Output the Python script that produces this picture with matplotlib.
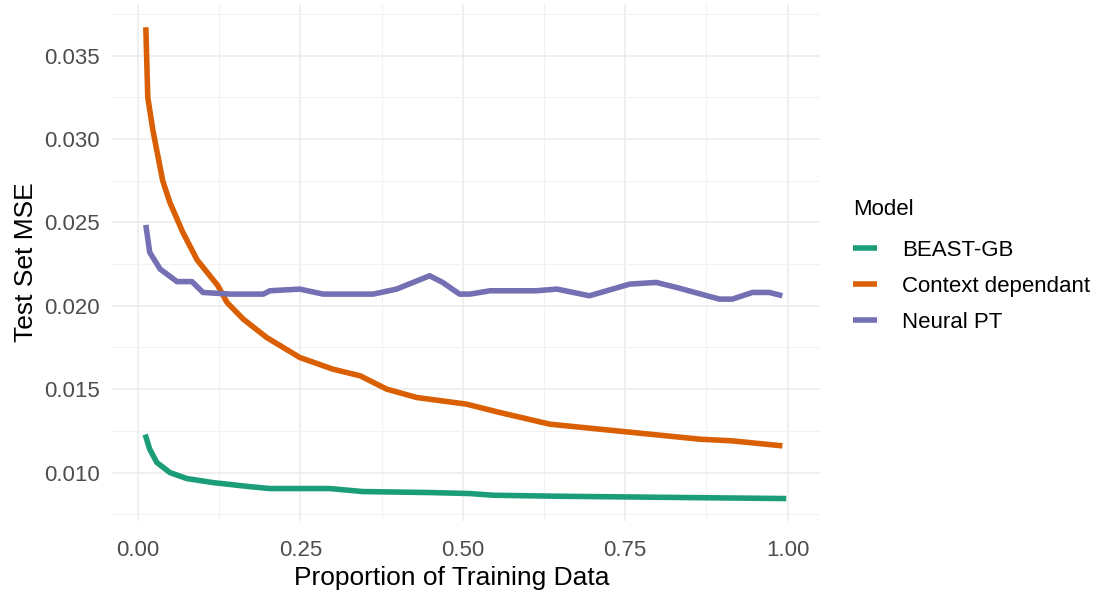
import matplotlib
matplotlib.use("Agg")
import matplotlib.pyplot as plt
from matplotlib.ticker import MultipleLocator

plt.rcParams['font.family'] = ['Liberation Sans', 'DejaVu Sans']

# test set error against share of the training data, one curve per model
beast_x = [0.011, 0.018, 0.029, 0.049, 0.075, 0.115, 0.168, 0.203, 0.295, 0.346,
           0.449, 0.511, 0.546, 0.645, 0.845, 0.998]
beast_y = [0.01228, 0.0114, 0.0106, 0.0100, 0.00964, 0.0094, 0.00917, 0.00904, 0.00904, 0.00886,
           0.0088, 0.00874, 0.00864, 0.00858, 0.0085, 0.00844]

context_x = [0.012, 0.015, 0.023, 0.038, 0.049, 0.069, 0.091, 0.123, 0.137, 0.162,
             0.198, 0.249, 0.30, 0.342, 0.383, 0.429, 0.506, 0.557, 0.634, 0.711,
             0.788, 0.865, 0.915, 0.992]
context_y = [0.0367, 0.0325, 0.0305, 0.0275, 0.0262, 0.0244, 0.02275, 0.0212, 0.0202, 0.0192,
             0.0181, 0.0169, 0.0162, 0.0158, 0.0150, 0.0145, 0.0141, 0.0136, 0.0129, 0.0126,
             0.0123, 0.0120, 0.0119, 0.0116]

neural_x = [0.012, 0.018, 0.034, 0.06, 0.083, 0.1, 0.142, 0.193, 0.203, 0.249,
            0.285, 0.362, 0.398, 0.449, 0.469, 0.495, 0.511, 0.542, 0.613, 0.645,
            0.695, 0.757, 0.798, 0.829, 0.895, 0.915, 0.946, 0.972, 0.992]
neural_y = [0.02485, 0.0232, 0.0222, 0.02145, 0.02145, 0.0208, 0.0207, 0.0207, 0.0209, 0.0210,
            0.0207, 0.0207, 0.0210, 0.0218, 0.0214, 0.0207, 0.0207, 0.0209, 0.0209, 0.0210,
            0.0206, 0.0213, 0.0214, 0.0211, 0.0204, 0.0204, 0.0208, 0.0208, 0.0206]

labels = ['BEAST-GB', 'Context dependant', 'Neural PT']
colors = ['#1B9E77', '#D95F02', '#7570B3']

fig = plt.figure(figsize=(11.05, 5.96), dpi=100)
ax = fig.add_axes([0.1014, 0.126, 0.6407, 0.8674])

series = [(beast_x, beast_y), (context_x, context_y), (neural_x, neural_y)]
for (xs, ys), lab, col in zip(series, labels, colors):
    ax.plot(xs, ys, color=col, lw=4, label=lab, solid_capstyle='butt')

ax.set_xlim(-0.04, 1.05)
ax.set_ylim(0.0071, 0.0381)

ax.xaxis.set_minor_locator(MultipleLocator(0.125))
ax.yaxis.set_minor_locator(MultipleLocator(0.0025))
ax.set_xticks([0, 0.25, 0.5, 0.75, 1.0])
ax.set_xticklabels(['0.00', '0.25', '0.50', '0.75', '1.00'])
ax.set_yticks([0.010, 0.015, 0.020, 0.025, 0.030, 0.035])
ax.set_yticklabels(['0.010', '0.015', '0.020', '0.025', '0.030', '0.035'])

ax.grid(which='major', color='#EBEBEB', lw=1.1)
ax.grid(which='minor', color='#F2F2F2', lw=0.8)
ax.set_axisbelow(True)
for s in ax.spines.values():
    s.set_visible(False)
ax.tick_params(which='both', length=0)
ax.tick_params(axis='y', labelsize=16, labelcolor='#4D4D4D', pad=9)
ax.tick_params(axis='x', labelsize=16, labelcolor='#4D4D4D', pad=14)

ax.set_xlabel('Proportion of Training Data', fontsize=19)
ax.xaxis.label.set_va('center')
ax.xaxis.set_label_coords(0.48, -0.110)
ax.set_ylabel('Test Set MSE', fontsize=19)
ax.yaxis.label.set_va('center')
ax.yaxis.set_label_coords(-0.121, 0.5)

leg = ax.legend(title='Model', loc='upper left', bbox_to_anchor=(853 / 1105, 1 - 199 / 596),
                bbox_transform=fig.transFigure, frameon=False, fontsize=16,
                title_fontsize=16, handlelength=1.1, handletextpad=1.1,
                labelspacing=0.66, borderaxespad=0, borderpad=0)
leg._legend_box.align = 'left'
# a little more room between the title and the first key
leg._legend_box.sep = 0.66 * 16 + 4

fig.savefig('out.png', dpi=100)
